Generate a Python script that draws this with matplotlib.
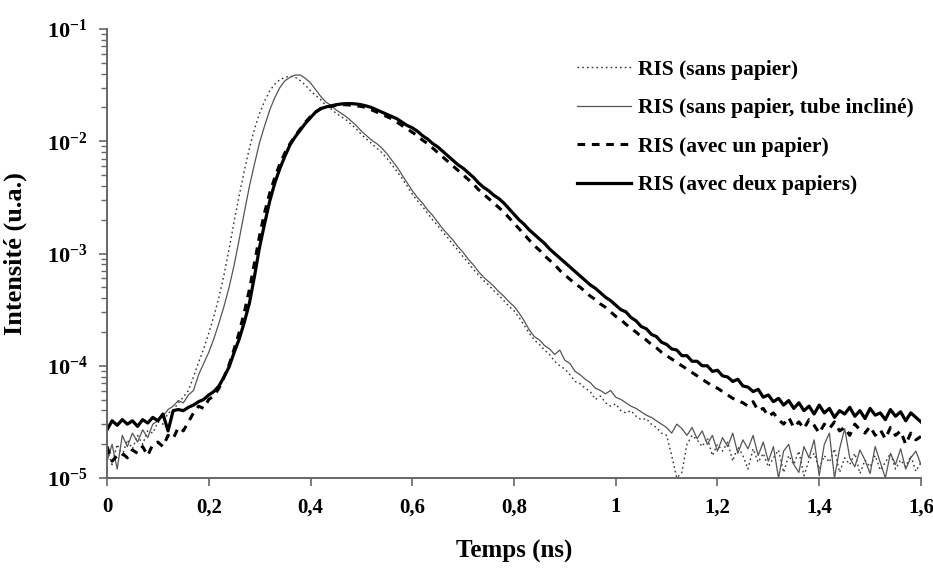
import numpy as np
import matplotlib
matplotlib.use("Agg")
import matplotlib.pyplot as plt
from matplotlib.ticker import FixedLocator, LogLocator, NullFormatter

# ---- data (time grid, ns; values = log10 of intensity) ----
temps_ns = np.round(np.arange(161) * 0.01, 2)

log_sans_papier = [
    -4.75, -4.88, -4.70, -4.80, -4.66, -4.74, -4.62, -4.70, -4.58, -4.60,
    -4.50, -4.52, -4.42, -4.40, -4.33, -4.28, -4.22, -4.10, -3.97, -3.85,
    -3.71, -3.56, -3.39, -3.19, -2.96, -2.71, -2.48, -2.26, -2.06, -1.89,
    -1.75, -1.64, -1.55, -1.49, -1.45, -1.43, -1.42, -1.43, -1.46, -1.50,
    -1.55, -1.59, -1.63, -1.68, -1.71, -1.75, -1.78, -1.81, -1.85, -1.89,
    -1.94, -1.98, -2.02, -2.06, -2.10, -2.15, -2.21, -2.27, -2.33, -2.40,
    -2.47, -2.53, -2.58, -2.64, -2.70, -2.75, -2.81, -2.86, -2.92, -2.97,
    -3.03, -3.08, -3.14, -3.19, -3.24, -3.28, -3.33, -3.37, -3.42, -3.47,
    -3.51, -3.57, -3.64, -3.71, -3.77, -3.81, -3.86, -3.90, -3.96, -4.00,
    -4.03, -4.08, -4.14, -4.16, -4.20, -4.23, -4.30, -4.27, -4.33, -4.36,
    -4.34, -4.40, -4.42, -4.40, -4.45, -4.48, -4.47, -4.52, -4.55, -4.60,
    -4.62, -4.80, -5.00, -4.95, -4.70, -4.62, -4.66, -4.72, -4.64, -4.80,
    -4.70, -4.76, -4.68, -4.85, -4.72, -4.80, -4.92, -4.74, -4.86, -4.78,
    -4.90, -4.82, -4.75, -4.95, -4.80, -4.88, -4.76, -4.98, -4.84, -4.78,
    -4.92, -4.80, -4.86, -4.74, -4.95, -4.82, -4.88, -4.78, -4.96, -4.84,
    -4.90, -4.80, -4.93, -4.86, -4.78, -4.92, -4.84, -4.90, -4.80, -4.94,
    -4.86,
]

log_tube_incline = [
    -4.85, -4.70, -4.92, -4.62, -4.72, -4.60, -4.68, -4.57, -4.64, -4.52,
    -4.49, -4.45, -4.39, -4.36, -4.31, -4.33, -4.26, -4.22, -4.08, -3.98,
    -3.88, -3.76, -3.62, -3.47, -3.30, -3.10, -2.87, -2.63, -2.40, -2.20,
    -2.01, -1.86, -1.72, -1.61, -1.52, -1.46, -1.43, -1.41, -1.41, -1.44,
    -1.48, -1.54, -1.60, -1.65, -1.68, -1.72, -1.75, -1.78, -1.82, -1.86,
    -1.91, -1.95, -1.99, -2.02, -2.06, -2.11, -2.17, -2.23, -2.30, -2.37,
    -2.44, -2.50, -2.55, -2.61, -2.66, -2.72, -2.78, -2.83, -2.88, -2.94,
    -2.99, -3.05, -3.10, -3.16, -3.21, -3.25, -3.29, -3.34, -3.38, -3.43,
    -3.47, -3.53, -3.60, -3.68, -3.74, -3.77, -3.82, -3.85, -3.90, -3.86,
    -3.95, -3.98, -4.05, -4.08, -4.12, -4.15, -4.20, -4.22, -4.25, -4.22,
    -4.28, -4.30, -4.33, -4.36, -4.38, -4.41, -4.44, -4.46, -4.49, -4.52,
    -4.55, -4.60, -4.52, -4.56, -4.62, -4.55, -4.65, -4.58, -4.70, -4.62,
    -4.76, -4.64, -4.72, -4.60, -4.78, -4.66, -4.74, -4.62, -4.80, -4.68,
    -4.85, -4.72, -5.00, -4.76, -4.70, -4.88, -4.95, -4.72, -4.82, -4.66,
    -4.98, -4.70, -4.60, -5.00, -4.74, -4.56, -4.82, -4.90, -4.75, -4.84,
    -4.96, -4.72, -4.86, -5.00, -4.78, -4.88, -4.74, -4.92, -4.82, -4.76,
    -4.88,
]

log_un_papier = [
    -4.72, -4.85, -4.80, -4.78, -4.82, -4.75, -4.78, -4.72, -4.80, -4.70,
    -4.68, -4.72, -4.62, -4.65, -4.55, -4.58, -4.50, -4.42, -4.36, -4.38,
    -4.30, -4.27, -4.20, -4.10, -3.99, -3.85, -3.70, -3.52, -3.32, -3.08,
    -2.84, -2.63, -2.46, -2.32, -2.20, -2.10, -2.02, -1.95, -1.89, -1.83,
    -1.78, -1.74, -1.71, -1.70, -1.69, -1.68, -1.675, -1.675, -1.68, -1.685,
    -1.69, -1.70, -1.72, -1.74, -1.76, -1.78, -1.80, -1.83, -1.86, -1.89,
    -1.92, -1.95, -1.99, -2.02, -2.06, -2.10, -2.14, -2.18, -2.22, -2.26,
    -2.30, -2.34, -2.38, -2.43, -2.47, -2.51, -2.55, -2.59, -2.63, -2.68,
    -2.73, -2.78, -2.83, -2.88, -2.93, -2.97, -3.02, -3.06, -3.10, -3.15,
    -3.19, -3.23, -3.27, -3.30, -3.34, -3.38, -3.41, -3.45, -3.48, -3.52,
    -3.56, -3.59, -3.63, -3.67, -3.70, -3.74, -3.77, -3.81, -3.84, -3.88,
    -3.91, -3.94, -3.97, -4.00, -4.03, -4.06, -4.09, -4.12, -4.15, -4.18,
    -4.20, -4.23, -4.26, -4.29, -4.31, -4.33, -4.36, -4.32, -4.40, -4.38,
    -4.45, -4.42, -4.48, -4.52, -4.46, -4.55, -4.50, -4.56, -4.48, -4.53,
    -4.60, -4.52, -4.56, -4.50, -4.58, -4.55, -4.62, -4.52, -4.57, -4.60,
    -4.54, -4.62, -4.57, -4.65, -4.55, -4.62, -4.58, -4.70, -4.60, -4.66,
    -4.63,
]

log_deux_papiers = [
    -4.57, -4.49, -4.53, -4.48, -4.52, -4.49, -4.54, -4.48, -4.51, -4.46,
    -4.49, -4.43, -4.58, -4.40, -4.39, -4.40, -4.37, -4.35, -4.32, -4.30,
    -4.26, -4.23, -4.18, -4.10, -4.01, -3.88, -3.76, -3.61, -3.44, -3.20,
    -2.94, -2.73, -2.53, -2.37, -2.24, -2.13, -2.03, -1.96, -1.90, -1.84,
    -1.79, -1.74, -1.71, -1.695, -1.685, -1.675, -1.668, -1.665, -1.665, -1.668,
    -1.675, -1.686, -1.70, -1.72, -1.74, -1.76, -1.78, -1.80, -1.83, -1.86,
    -1.88, -1.91, -1.95, -1.98, -2.02, -2.05, -2.09, -2.13, -2.17, -2.21,
    -2.24, -2.28, -2.32, -2.37, -2.41, -2.44, -2.48, -2.51, -2.55, -2.60,
    -2.65, -2.70, -2.74, -2.79, -2.83, -2.87, -2.91, -2.96, -3.00, -3.04,
    -3.08, -3.12, -3.16, -3.20, -3.24, -3.28, -3.31, -3.35, -3.39, -3.42,
    -3.46, -3.50, -3.52, -3.57, -3.60, -3.65, -3.67, -3.72, -3.74, -3.79,
    -3.81, -3.85, -3.86, -3.91, -3.91, -3.96, -3.96, -4.00, -4.00, -4.05,
    -4.04, -4.09, -4.10, -4.14, -4.12, -4.18, -4.19, -4.23, -4.21, -4.28,
    -4.26, -4.32, -4.29, -4.35, -4.31, -4.38, -4.33, -4.40, -4.36, -4.43,
    -4.35, -4.42, -4.38, -4.46, -4.40, -4.43, -4.37, -4.45, -4.40, -4.47,
    -4.38, -4.44, -4.42, -4.48, -4.39, -4.45, -4.41, -4.49, -4.42, -4.46,
    -4.50,
]

series_labels = [
    "RIS (sans papier)",
    "RIS (sans papier, tube incliné)",
    "RIS (avec un papier)",
    "RIS (avec deux papiers)",
]
x_ticks = [0, 0.2, 0.4, 0.6, 0.8, 1.0, 1.2, 1.4, 1.6]
x_tick_labels = ["0", "0,2", "0,4", "0,6", "0,8", "1", "1,2", "1,4", "1,6"]
y_ticks = [1e-5, 1e-4, 1e-3, 1e-2, 1e-1]
y_tick_labels = [r"$\mathbf{10^{-5}}$", r"$\mathbf{10^{-4}}$", r"$\mathbf{10^{-3}}$",
                 r"$\mathbf{10^{-2}}$", r"$\mathbf{10^{-1}}$"]

# ---- style ----
plt.rcParams["font.family"] = ["Liberation Serif", "DejaVu Serif"]
plt.rcParams["font.weight"] = "bold"
plt.rcParams["mathtext.fontset"] = "custom"
plt.rcParams["mathtext.rm"] = "Liberation Serif"
plt.rcParams["mathtext.bf"] = "Liberation Serif:bold"
plt.rcParams["mathtext.it"] = "Liberation Serif:italic"

fig = plt.figure(figsize=(9.33, 5.74), dpi=100)
ax = fig.add_axes([0.1147, 0.1672, 0.8724, 0.7823])

styles = [
    dict(color="#333333", lw=1.0, linestyle=(0, (1.2, 2.2))),
    dict(color="#555555", lw=0.9, linestyle="-"),
    dict(color="black", lw=2.2, linestyle=(0, (2.5, 2.2))),
    dict(color="black", lw=2.3, linestyle="-"),
]
data = [log_sans_papier, log_tube_incline, log_un_papier, log_deux_papiers]
for vals, lab, st in zip(data, series_labels, styles):
    ax.plot(temps_ns, 10.0 ** np.asarray(vals), label=lab, **st)

ax.set_yscale("log")
ax.set_xlim(0, 1.6)
ax.set_ylim(1e-5, 1e-1)

ax.xaxis.set_major_locator(FixedLocator(x_ticks))
ax.set_xticklabels(x_tick_labels, fontsize=15, fontweight="bold")
ax.yaxis.set_major_locator(FixedLocator(y_ticks))
ax.set_yticklabels(y_tick_labels, fontsize=16)
ax.yaxis.set_minor_locator(LogLocator(base=10, subs=np.arange(2, 10)))
ax.yaxis.set_minor_formatter(NullFormatter())

ax.tick_params(axis="x", which="major", direction="out", length=6, width=1.2,
               color="#666666", pad=8)
ax.tick_params(axis="y", which="major", direction="out", length=6, width=1.2,
               color="#666666", pad=8)
ax.tick_params(axis="y", which="minor", direction="out", length=4, width=1.0,
               color="#666666")

for s in ["top", "right"]:
    ax.spines[s].set_visible(False)
for s in ["left", "bottom"]:
    ax.spines[s].set_color("#666666")
    ax.spines[s].set_linewidth(1.4)

ax.set_xlabel("Temps (ns)", fontsize=18, fontweight="bold", labelpad=16)
ax.set_ylabel("Intensité (u.a.)", fontsize=19, fontweight="bold", labelpad=14)

leg = ax.legend(loc="upper left", bbox_to_anchor=(0.5615, 0.96), frameon=False,
                fontsize=15.5, handlelength=2.5, handletextpad=0.35,
                labelspacing=0.85, borderaxespad=0.2)

fig.savefig("out.png", dpi=100, facecolor="white")
